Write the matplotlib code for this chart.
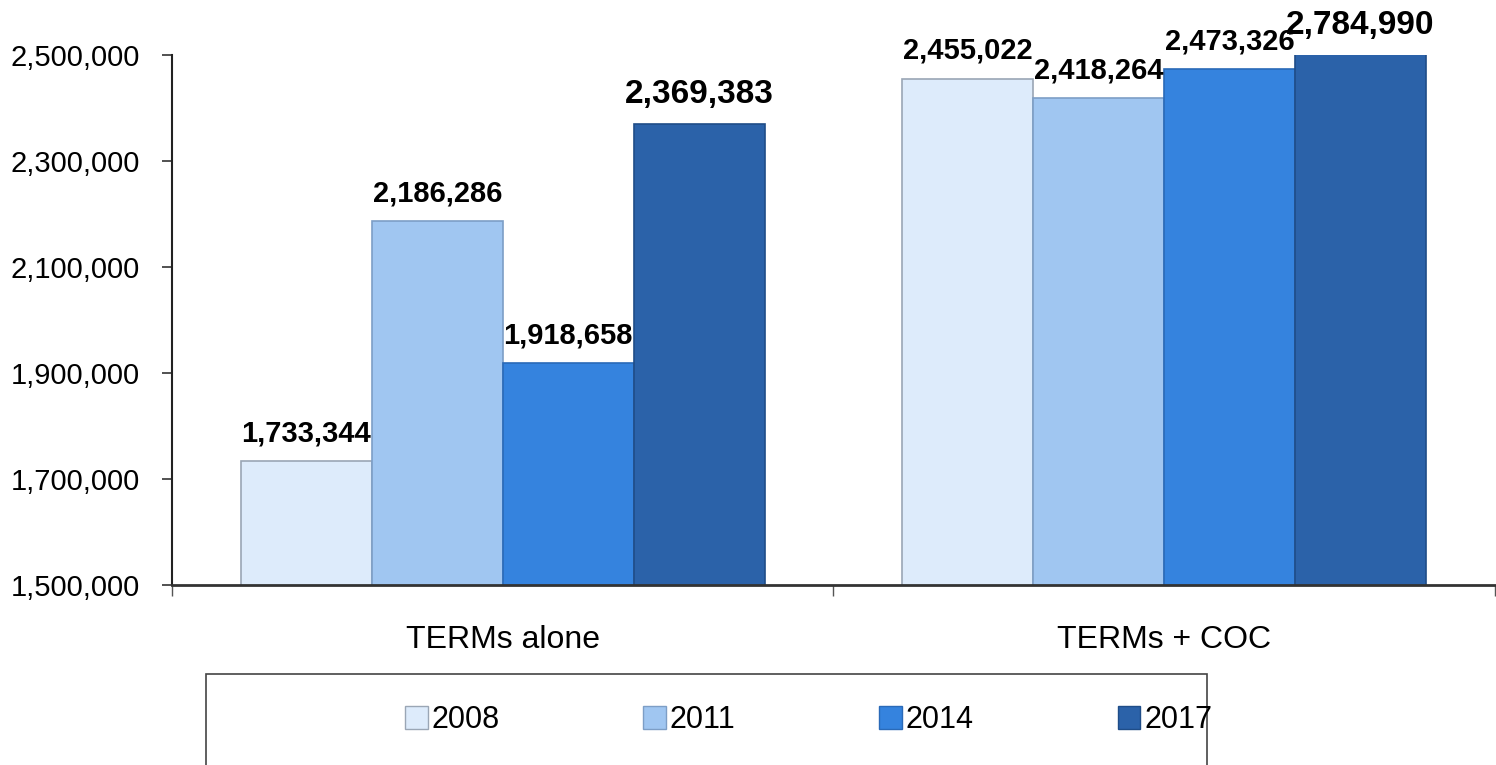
import numpy as np
import matplotlib
matplotlib.use('Agg')
import matplotlib.pyplot as plt
from matplotlib.patches import Rectangle, Patch
from matplotlib.ticker import FuncFormatter

#data
categories = ['TERMs alone', 'TERMs + COC']
years = ['2008', '2011', '2014', '2017']
vals_2008 = [1733344, 2455022]
vals_2011 = [2186286, 2418264]
vals_2014 = [1918658, 2473326]
vals_2017 = [2369383, 2784990]
series = [vals_2008, vals_2011, vals_2014, vals_2017]

colors = ['#ddebfb', '#a0c6f1', '#3583de', '#2b62a9']
edges = ['#9aa6b5', '#7d9ec6', '#2a6ab8', '#1f4d88']

plt.rcParams['font.family'] = ['Liberation Sans', 'DejaVu Sans']

fig = plt.figure(figsize=(14.96, 7.65), dpi=100)
ax = fig.add_axes([0.115, 0.2353, 0.884, 0.6928])

ymin, ymax = 1500000, 2500000
x = np.arange(len(categories))
w = 0.198
for i, vals in enumerate(series):
    pos = x + (i - 1.5) * w
    ax.bar(pos, vals, width=w, color=colors[i], edgecolor=edges[i], linewidth=1.2, label=years[i])
    for p, v in zip(pos, vals):
        big = (i == 3)
        ax.annotate(f'{v:,}', xy=(p, min(v, ymax)), xytext=(0, 10),
                    textcoords='offset points', ha='center', va='bottom',
                    fontsize=24 if big else 21, fontweight='bold', annotation_clip=False)

ax.set_ylim(ymin, ymax)
ax.set_xlim(-0.5, 1.5)
ax.set_yticks(np.arange(1500000, 2500001, 200000))
ax.yaxis.set_major_formatter(FuncFormatter(lambda v, p: f'{int(v):,}'))
ax.tick_params(axis='y', labelsize=21, length=7, width=1.2, pad=16, color='#333333')

ax.set_xticks([-0.5, 0.5, 1.5])
ax.set_xticklabels(['', '', ''])
ax.tick_params(axis='x', which='major', length=8, width=1.0, color='#555555')
ax.set_xticks(x, minor=True)
ax.set_xticklabels(categories, minor=True)
ax.tick_params(axis='x', which='minor', length=0, labelsize=23, pad=29)

for s in ['top', 'right']:
    ax.spines[s].set_visible(False)
ax.spines['left'].set_linewidth(1.5)
ax.spines['left'].set_color('#222222')
ax.spines['bottom'].set_linewidth(2)
ax.spines['bottom'].set_color('#333333')

#legend box runs off the bottom of the picture in the reference
fig.patches.append(Rectangle((206 / 1496, -0.1), (1207 - 206) / 1496, 0.1 + (765 - 674) / 765,
                             transform=fig.transFigure, fill=False, edgecolor='#444444', linewidth=1.2))
handles = [Patch(facecolor=colors[i], edgecolor=edges[i], label=years[i]) for i in range(4)]
fig.legend(handles=handles, loc='center', bbox_to_anchor=(0.5405, 1 - 720 / 765), ncol=4, frameon=False,
           fontsize=22, handlelength=0.75, handleheight=0.75, handletextpad=0.12, columnspacing=4.7)

fig.savefig('out.png', dpi=100)
